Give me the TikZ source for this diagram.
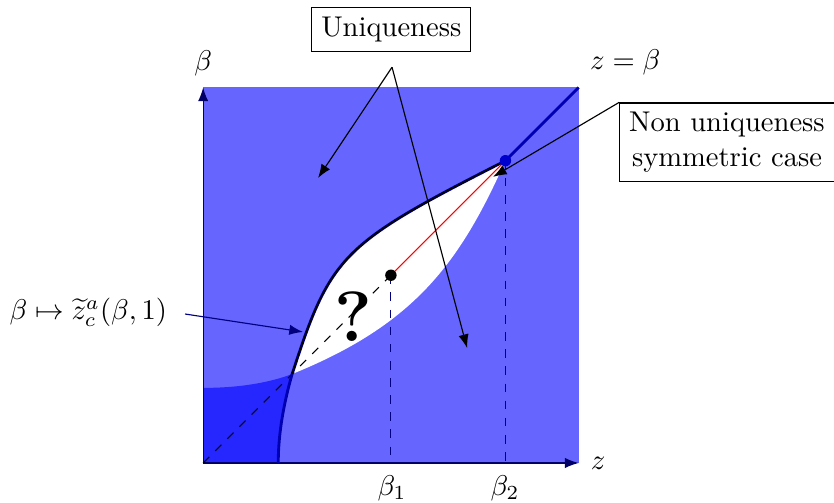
\documentclass[tikz,border=0pt]{standalone}
\usepackage{amsmath}
\usepackage{amssymb}
\usepackage{tikz}
\usetikzlibrary{positioning,arrows.meta,calc}

\begin{document}
\begin{tikzpicture}[x=4.62cm, y=4.62cm]
  \useasboundingbox (-0.541,-0.1065) rectangle (1.680,1.233);
  \coordinate (O) at (0,0);
  \coordinate (zend) at (1,0);
  \coordinate (bend) at (0,1);
  \coordinate (tr) at (1,1);
  \coordinate (P) at (0.237,0.237);
  \coordinate (q1) at (0.5,0.5);
  \coordinate (q2) at (0.805,0.805);
  \coordinate (zc0) at (0.2,0);

  \fill[blue!60] (O) rectangle (tr);
  \fill[blue!85] (O) -- (0,0.2) .. controls (0.1,0.2) and (0.18,0.215) .. (P) .. controls (0.215,0.16) and (0.2,0.08) .. (zc0) -- cycle;
  \fill[white] (P) .. controls (0.340,0.554) and (0.368,0.583) .. (q2) .. controls (0.683,0.531) and (0.561,0.368) .. (P) -- cycle;

  \draw[-{Latex}, blue!40!black] (O) -- (zend);
  \draw[-{Latex}, blue!40!black] (O) -- (bend);
  \node (zlab) at (1.052,0) {$z$};
  \node (blab) at (0,1.065) {$\beta$};
  \node (diaglab) at (1.124,1.068) {$z=\beta$};

  \draw[dashed] (O) -- (q1);
  \draw[dashed, blue!50!black] (q1) -- (q1 |- O);
  \draw[dashed, blue!50!black] (q2) -- (q2 |- O);
  \node (b1) at (0.503,-0.067) {$\beta_1$};
  \node (b2) at (0.804,-0.067) {$\beta_2$};

  \draw[line width=1pt, blue!70!black] (zc0) .. controls (0.2,0.08) and (0.215,0.16) .. (P) .. controls (0.340,0.554) and (0.368,0.583) .. (q2) -- (tr);
  \draw[semithick] (P) .. controls (0.340,0.554) and (0.368,0.583) .. (q2);
  \draw[red] (q1) -- (q2);
  \fill (q1) circle (2pt);
  \fill[blue!80!black] (q2) circle (2pt);

  \node at (0.399,0.389) {\Huge\bfseries ?};

  \node[draw] (uniq) at (0.501,1.154) {Uniqueness};
  \coordinate (u0) at (0.503,1.054);
  \coordinate (u1) at (0.306,0.759);
  \coordinate (u2) at (0.703,0.306);
  \draw[-{Latex}] (u0) -- (u1);
  \draw[-{Latex}] (u0) -- (u2);

  \node[draw, align=center] (nonuniq) at (1.395,0.854) {Non uniqueness\\symmetric case};
  \coordinate (nu1) at (0.772,0.762);
  \draw[-{Latex}] (nonuniq.north west) -- (nu1);

  \node (zclab) at (-0.306,0.400) {$\beta\mapsto\widetilde{z}^a_c(\beta,1)$};
  \coordinate (zc1) at (0.266,0.349);
  \draw[-{Latex}, blue!50!black, shorten <=1mm] (zclab.east) -- (zc1);
\end{tikzpicture}
\end{document}
